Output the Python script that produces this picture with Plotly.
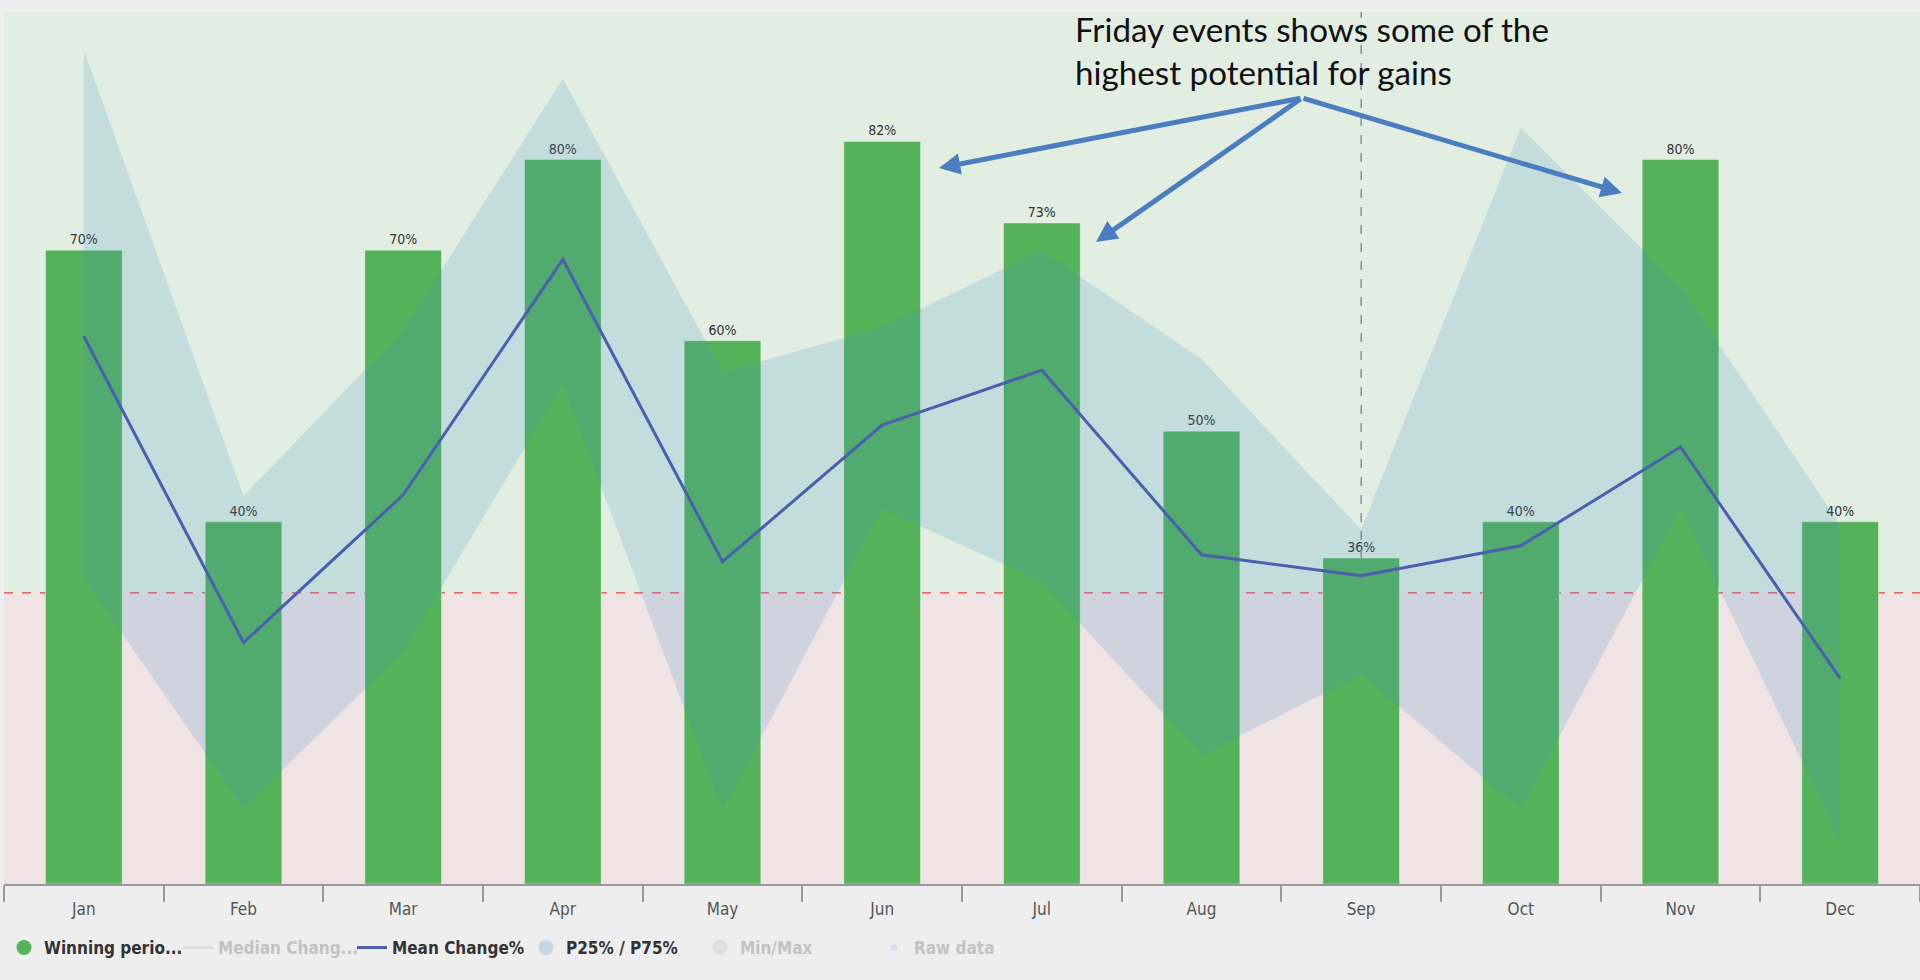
import plotly.graph_objects as go

# month-by-month stats
months = ['Jan', 'Feb', 'Mar', 'Apr', 'May', 'Jun', 'Jul', 'Aug', 'Sep', 'Oct', 'Nov', 'Dec']
winning_pct = [70, 40, 70, 80, 60, 82, 73, 50, 36, 40, 80, 40]
mean_change = [2.57, -0.50, 0.98, 3.34, 0.31, 1.68, 2.23, 0.38, 0.17, 0.47, 1.46, -0.86]
p75_change = [5.44, 0.97, 2.63, 5.15, 2.21, 2.66, 3.43, 2.34, 0.63, 4.66, 3.06, 0.68]
p25_change = [0.14, -2.16, -0.59, 2.09, -2.18, 0.84, 0.11, -1.63, -0.82, -2.17, 0.85, -2.49]

BAR_RANGE = [0, 96.3]
CHG_RANGE = [-2.92, 5.82]

GREEN = 'rgb(85,178,90)'
BLUE = 'rgb(74,95,174)'
BAND = 'rgba(63,143,194,0.19)'
ARROW = 'rgb(74,126,193)'
FONT = 'DejaVu Sans Condensed'

note_text = 'Friday events shows some of the<br>highest potential for gains'
arrow_tips = [(939, 168), (1096, 242), (1622, 193)]   # pixel positions of arrow heads
arrow_hub = (1302, 98)

fig = go.Figure()

fig.add_trace(go.Bar(
    x=months, y=winning_pct, yaxis='y', width=0.48,
    marker=dict(color=GREEN, line=dict(color='rgba(255,255,255,0.35)', width=1)),
    text=[f'{v}%' for v in winning_pct], textposition='outside',
    textfont=dict(family=FONT, size=14, color='#333'),
    cliponaxis=False, showlegend=False,
))

fig.add_trace(go.Scatter(
    x=months, y=p25_change, yaxis='y2', mode='lines',
    line=dict(width=0, color=BAND), showlegend=False, hoverinfo='skip',
))
fig.add_trace(go.Scatter(
    x=months, y=p75_change, yaxis='y2', mode='lines', fill='tonexty',
    fillcolor=BAND, line=dict(width=0, color=BAND), showlegend=False,
))
fig.add_trace(go.Scatter(
    x=months, y=mean_change, yaxis='y2', mode='lines',
    line=dict(color=BLUE, width=3), showlegend=False,
))


# legend entries (Highcharts-style, some series switched off)
def legend_item(name, symbol, color, size, txt_color='#333', mode='markers'):
    label = f"<span style='color:{txt_color}'>{name}</span>"
    if mode == 'lines':
        return go.Scatter(x=[None], y=[None], mode='lines', name=label,
                          line=dict(color=color, width=3))
    return go.Scatter(x=[None], y=[None], mode='markers', name=label,
                      marker=dict(symbol=symbol, color=color, size=size))


fig.add_trace(legend_item('Winning perio...', 'circle', GREEN, 15))
fig.add_trace(legend_item('Median Chang...', None, '#dddddd', 0, '#c2c2c2', mode='lines'))
fig.add_trace(legend_item('Mean Change%', None, BLUE, 0, mode='lines'))
fig.add_trace(legend_item('P25% / P75%', 'circle', 'rgb(196,214,228)', 15))
fig.add_trace(legend_item('Min/Max', 'circle', '#dedede', 15, '#c2c2c2'))
fig.add_trace(legend_item('Raw data', 'square', '#dcdcef', 6, '#c2c2c2'))

shapes = [
    dict(type='rect', xref='paper', yref='y2', x0=0, x1=1, y0=0, y1=CHG_RANGE[1],
         fillcolor='rgb(226,238,226)', line_width=0, layer='below'),
    dict(type='rect', xref='paper', yref='y2', x0=0, x1=1, y0=CHG_RANGE[0], y1=0,
         fillcolor='rgb(239,227,227)', line_width=0, layer='below'),
    dict(type='line', xref='paper', yref='y2', x0=0, x1=1, y0=0, y1=0,
         line=dict(color='rgb(228,100,106)', width=1.5, dash='dash'), layer='below'),
    dict(type='line', xref='x', yref='y', x0='Sep', x1='Sep',
         y0=winning_pct[months.index('Sep')], y1=BAR_RANGE[1],
         line=dict(color='#8f8f8f', width=1.5, dash='dash'), layer='above'),
]

W, H = 1920, 980
ML, MR, MT, MB = 4, 0, 12, 96
pw, ph = W - ML - MR, H - MT - MB


def px_to_paper(px, py):
    return (px - ML) / pw, (H - MB - py) / ph


annotations = []
nx, ny = px_to_paper(1073, 50)
annotations.append(dict(
    xref='paper', yref='paper', x=nx, y=ny, xanchor='left', yanchor='middle',
    text=note_text, showarrow=False, align='left',
    font=dict(family='Lato', size=33.2, color='#111'),
))
for tx, ty in arrow_tips:
    ax_, ay_ = px_to_paper(tx, ty)
    annotations.append(dict(
        xref='paper', yref='paper', x=ax_, y=ay_, text='', showarrow=True,
        ax=arrow_hub[0] - tx, ay=arrow_hub[1] - ty,
        arrowhead=2, arrowsize=0.85, arrowwidth=5, arrowcolor=ARROW,
    ))

lx, ly = px_to_paper(0, 948)

fig.update_layout(
    width=W, height=H,
    margin=dict(l=ML, r=MR, t=MT, b=MB),
    paper_bgcolor='#eeeeee', plot_bgcolor='rgba(0,0,0,0)',
    font=dict(family=FONT, color='#555'),
    xaxis=dict(type='category', tickson='boundaries', ticks='outside', ticklen=16,
               tickcolor='#999', tickwidth=1.5, showline=True, linecolor='#999',
               linewidth=2, showgrid=False, ticklabelstandoff=9,
               tickfont=dict(family=FONT, size=17, color='#555')),
    yaxis=dict(range=BAR_RANGE, visible=False, showgrid=False, zeroline=False),
    yaxis2=dict(range=CHG_RANGE, overlaying='y', visible=False, showgrid=False,
                zeroline=False),
    legend=dict(orientation='h', x=0, y=ly, xanchor='left', yanchor='middle',
                traceorder='normal',
                font=dict(family=FONT, size=17, color='#333', weight='bold'),
                entrywidth=129, entrywidthmode='pixels', itemsizing='trace',
                bgcolor='rgba(0,0,0,0)'),
    shapes=shapes, annotations=annotations,
    hovermode=False,
)

fig.write_html('out.html', config={'displayModeBar': False},
               post_script="document.body.style.margin='0';")
